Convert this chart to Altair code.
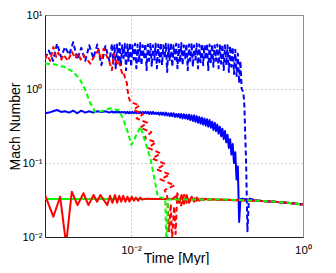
import altair as alt
import pandas as pd

# ---- data ----
# shared time grid of the densely oscillating part
band_t = [0.00600, 0.00621, 0.00643, 0.00665, 0.00689, 0.00713, 0.00738, 0.00763, 0.00790, 0.00818,
          0.00846, 0.00876, 0.00907, 0.00938, 0.00971, 0.01005, 0.01040, 0.01077, 0.01115, 0.01154,
          0.01194, 0.01236, 0.01279, 0.01324, 0.01370, 0.01418, 0.01468, 0.01519, 0.01572, 0.01627,
          0.01684, 0.01743, 0.01804, 0.01867, 0.01933, 0.02000, 0.02070, 0.02143, 0.02218, 0.02295,
          0.02376, 0.02459, 0.02545, 0.02634, 0.02726, 0.02821, 0.02920, 0.03022, 0.03128, 0.03238,
          0.03351, 0.03468, 0.03590, 0.03715, 0.03845, 0.03980, 0.04119, 0.04263, 0.04413, 0.04567,
          0.04727, 0.04892, 0.05064, 0.05241, 0.05424, 0.05614, 0.05811, 0.06014, 0.06224, 0.06442,
          0.06668, 0.06901, 0.07143, 0.07393, 0.07651, 0.07919, 0.08196, 0.08483, 0.08780, 0.09087,
          0.09405, 0.09735, 0.10075, 0.10428, 0.10793, 0.11171, 0.11562, 0.11966, 0.12385, 0.12819,
          0.13267, 0.13732, 0.14212, 0.14710, 0.15225, 0.15757, 0.16309, 0.16880, 0.17471, 0.18082,
          0.18715, 0.19370]
early_t = [0.00100, 0.00111, 0.00124, 0.00138, 0.00154, 0.00171, 0.00191, 0.00213, 0.00237,
           0.00264, 0.00294, 0.00327, 0.00365, 0.00406, 0.00453, 0.00504, 0.00562]
tail_t = [0.3, 0.5, 0.7, 1.0]
tail_m = [0.031, 0.0298, 0.0288, 0.0275]

green_solid_t = [0.001, 0.02, 0.1] + tail_t
green_solid_m = [0.0325, 0.0325, 0.0322] + tail_m

green_dash_t = [0.001, 0.00131, 0.00164, 0.00214, 0.00257, 0.00294, 0.00336, 0.00384, 0.0045,
                0.00576, 0.0065, 0.0072, 0.0082, 0.0090, 0.0101, 0.0129, 0.0148, 0.017, 0.0205,
                0.025, 0.0258, 0.0262, 0.0268, 0.1] + tail_t
green_dash_m = [2.2, 2.15, 2.0, 1.71, 1.32, 0.97, 0.64, 0.49, 0.50,
                0.55, 0.53, 0.52, 0.38, 0.28, 0.175, 0.31, 0.185, 0.11, 0.035,
                0.033, 0.008, 0.008, 0.032, 0.0322] + tail_m

blue_solid_early_m = [0.47, 0.48, 0.50, 0.52, 0.49, 0.50, 0.48, 0.51, 0.47,
                      0.51, 0.48, 0.50, 0.48, 0.50, 0.49, 0.50, 0.48]
blue_solid_band_m = [0.50, 0.48, 0.49, 0.48, 0.50, 0.48, 0.49, 0.48, 0.49, 0.48,
                     0.49, 0.47, 0.49, 0.47, 0.49, 0.47, 0.49, 0.47, 0.49, 0.47,
                     0.49, 0.47, 0.49, 0.47, 0.49, 0.47, 0.49, 0.47, 0.49, 0.46,
                     0.49, 0.46, 0.49, 0.46, 0.48, 0.46, 0.48, 0.45, 0.48, 0.45,
                     0.48, 0.44, 0.48, 0.44, 0.47, 0.43, 0.47, 0.43, 0.47, 0.42,
                     0.46, 0.42, 0.46, 0.41, 0.46, 0.40, 0.455, 0.40, 0.45, 0.39,
                     0.45, 0.38, 0.44, 0.37, 0.44, 0.36, 0.43, 0.35, 0.42, 0.34,
                     0.41, 0.33, 0.40, 0.32, 0.39, 0.31, 0.38, 0.30, 0.36, 0.28,
                     0.35, 0.27, 0.33, 0.25, 0.31, 0.23, 0.29, 0.21, 0.27, 0.19,
                     0.24, 0.16, 0.21, 0.13, 0.18, 0.10, 0.14, 0.06, 0.09, 0.016,
                     0.032, 0.033]
blue_solid_t = early_t + band_t + tail_t
blue_solid_m = blue_solid_early_m + blue_solid_band_m + tail_m

blue_dash_early_m = [2.6, 3.3, 2.4, 4.1, 2.7, 3.7, 2.9, 4.3, 2.5,
                     3.6, 2.4, 3.9, 2.6, 4.0, 2.1, 3.8, 2.4]
blue_dash_band_m = [4.1, 2.2, 4.0, 1.9, 4.0, 2.3, 4.2, 2.1, 3.9, 2.6,
                    4.1, 1.8, 4.0, 2.4, 4.2, 2.0, 3.9, 2.5, 4.1, 1.9,
                    4.0, 2.3, 4.2, 2.1, 3.9, 2.6, 4.1, 1.8, 4.0, 2.4,
                    4.2, 2.0, 3.9, 2.5, 4.1, 1.9, 4.0, 2.3, 4.2, 2.1,
                    3.9, 2.6, 4.1, 1.7, 4.0, 2.4, 4.2, 2.0, 3.9, 2.5,
                    4.1, 1.9, 4.0, 2.3, 4.2, 2.1, 3.9, 2.6, 4.1, 1.8,
                    4.0, 2.4, 4.2, 2.0, 3.9, 2.5, 4.1, 1.9, 4.0, 2.3,
                    4.1, 2.1, 3.9, 2.5, 4.1, 1.8, 4.0, 2.3, 4.0, 2.0,
                    3.9, 2.4, 4.0, 1.9, 3.9, 2.2, 4.0, 1.8, 3.9, 2.1,
                    3.9, 1.7, 3.8, 2.0, 3.7, 1.6, 3.4, 1.5, 3.0, 1.2,
                    2.4, 1.0]
blue_dash_drop_t = [0.203, 0.208, 0.218, 0.226, 0.234, 0.24]
blue_dash_drop_m = [0.9, 0.6, 0.1, 0.012, 0.03, 0.033]
blue_dash_t = early_t + band_t + blue_dash_drop_t + tail_t
blue_dash_m = blue_dash_early_m + blue_dash_band_m + blue_dash_drop_m + tail_m

red_solid_t = [0.00100, 0.00125, 0.00150, 0.00176, 0.00205, 0.00239, 0.0028, 0.0032, 0.00367,
               0.00403, 0.0044, 0.0053, 0.0057, 0.0061, 0.0065, 0.0069, 0.0073, 0.0077, 0.0081,
               0.0086, 0.0091, 0.0096, 0.0102, 0.0108, 0.0114, 0.0121, 0.0128, 0.0136, 0.015,
               0.02, 0.03, 0.0338, 0.0362, 0.0387, 0.0414, 0.0443, 0.0474, 0.0507, 0.0543,
               0.0581, 0.0621, 0.0665, 0.08] + tail_t
red_solid_m = [0.037, 0.0188, 0.035, 0.008, 0.041, 0.027, 0.039, 0.027, 0.037,
               0.030, 0.037, 0.027, 0.036, 0.029, 0.037, 0.029, 0.036, 0.030, 0.036,
               0.030, 0.035, 0.030, 0.035, 0.031, 0.034, 0.031, 0.034, 0.032, 0.033,
               0.0325, 0.0325, 0.036, 0.029, 0.037, 0.028, 0.037, 0.029, 0.035, 0.030,
               0.034, 0.031, 0.033, 0.0323] + tail_m

red_dash_t = [0.00100, 0.00105, 0.00115, 0.00125, 0.00135, 0.00143, 0.00155, 0.00164, 0.00185,
              0.00205, 0.00225, 0.00245, 0.0026, 0.0028, 0.0031, 0.00336, 0.0037, 0.0042, 0.0044,
              0.0046, 0.0048, 0.0052, 0.0055, 0.0060, 0.0063, 0.0066, 0.0069, 0.0072, 0.0075,
              0.0079, 0.0082, 0.0086, 0.0090, 0.0090, 0.0094,
              0.0098, 0.01258, 0.01067, 0.0139, 0.01164, 0.01542, 0.01283, 0.01723, 0.01425,
              0.0194, 0.01585, 0.0221, 0.0177, 0.0250, 0.01985, 0.0283, 0.0220, 0.0321, 0.0247,
              0.0264, 0.0276, 0.0290, 0.0300, 0.0318, 0.0330, 0.0346, 0.0380, 0.0415,
              0.0450, 0.0520, 0.0594, 0.065] + tail_t
red_dash_m = [2.5, 2.9, 2.4, 3.7, 2.7, 3.1, 2.5, 2.9, 2.4,
              3.2, 2.6, 3.0, 2.5, 2.9, 2.5, 2.2, 2.7, 3.4, 2.6,
              2.5, 3.5, 2.8, 2.5, 1.8, 3.0, 2.5, 2.2, 2.4, 2.0,
              1.63, 1.7, 1.33, 1.2, 1.07, 0.78,
              0.67, 0.60, 0.52, 0.46, 0.40, 0.35, 0.30, 0.26, 0.22,
              0.19, 0.16, 0.135, 0.115, 0.097, 0.082, 0.07, 0.06, 0.05, 0.043,
              0.035, 0.012, 0.028, 0.009, 0.026, 0.011, 0.039, 0.026, 0.037,
              0.028, 0.035, 0.030, 0.032] + tail_m

x_ticks = [0.01, 1.0]
y_ticks = [0.01, 0.1, 1.0, 10.0]

FONT = "Liberation Sans"

x_scale = alt.Scale(type="log", domain=[0.001, 1.0], nice=False)
y_scale = alt.Scale(type="log", domain=[0.01, 10.0], nice=False)

x_axis = alt.Axis(values=x_ticks, title="Time [Myr]", grid=True, ticks=False,
                  labelExpr="datum.value < 0.05 ? '10\u207b\u00b2' : '10\u2070'",
                  labelFont=FONT, labelFontSize=11.5, labelColor="#000", labelPadding=7,
                  titleFont=FONT, titleFontSize=14, titleFontWeight="normal", titleColor="#000",
                  titleX=131, titleY=25, titleBaseline="alphabetic",
                  gridColor="#999", gridDash=[1, 3], gridWidth=1,
                  domainColor="#222", labelFlush=False)
y_axis = alt.Axis(values=y_ticks, title="Mach Number", grid=True, ticks=False,
                  labelExpr="datum.value < 0.05 ? '10\u207b\u00b2' : (datum.value < 0.5 ? '10\u207b\u00b9' : (datum.value < 5 ? '10\u2070' : '10\u00b9'))",
                  labelFont=FONT, labelFontSize=11, labelColor="#000", labelPadding=3,
                  titleFont=FONT, titleFontSize=14, titleFontWeight="normal", titleColor="#000",
                  titleX=-26, titleY=111, titleBaseline="alphabetic",
                  gridColor="#999", gridDash=[1, 3], gridWidth=1,
                  domainColor="#222", labelFlush=False)


def layer(ts, ms, color, dashed):
    df = pd.DataFrame({"t": ts, "m": ms, "i": list(range(len(ts)))})
    kw = dict(clip=True, strokeWidth=2, color=color, strokeJoin="round")
    if dashed:
        kw["strokeDash"] = [5, 3]
    return alt.Chart(df).mark_line(**kw).encode(
        x=alt.X("t:Q", scale=x_scale, axis=x_axis),
        y=alt.Y("m:Q", scale=y_scale, axis=y_axis),
        order=alt.Order("i:Q"),
    )


chart = alt.layer(
    layer(green_solid_t, green_solid_m, "#00ff00", False),
    layer(blue_solid_t, blue_solid_m, "#0000ff", False),
    layer(red_solid_t, red_solid_m, "#ff0000", False),
    layer(blue_dash_t, blue_dash_m, "#0000ff", True),
    layer(red_dash_t, red_dash_m, "#ff0000", True),
    layer(green_dash_t, green_dash_m, "#00ff00", True),
).properties(
    width=258, height=222,
    autosize=alt.AutoSizeParams(type="none"),
    padding={"left": 37, "top": 7, "right": 25, "bottom": 28},
).configure_view(stroke="#888", strokeWidth=1)

chart.save("out.html", embed_options={"renderer": "svg", "actions": False})
